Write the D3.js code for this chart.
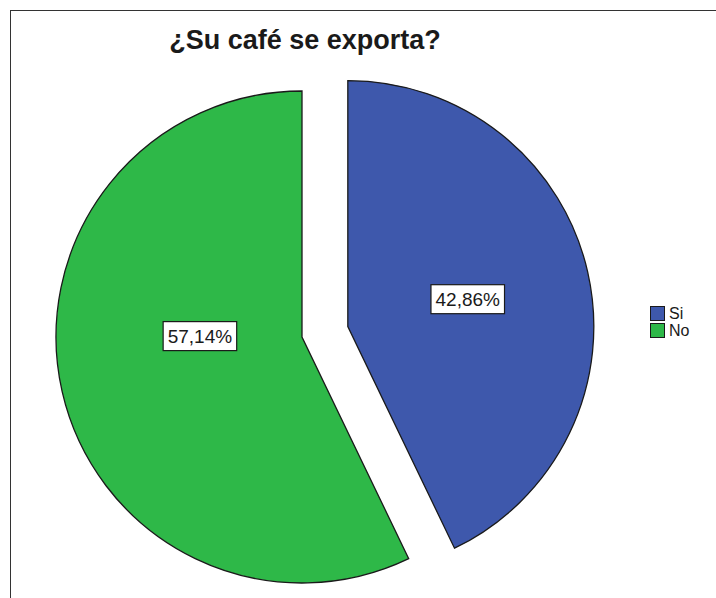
<!DOCTYPE html>
<html>
<head>
<meta charset="utf-8">
<script src="https://cdn.jsdelivr.net/npm/d3@7"></script>
<style>
  html, body { margin: 0; padding: 0; background: #fff; }
  svg { display: block; }
</style>
</head>
<body>
<svg id="chart" width="716" height="598"></svg>
<script>
// Data
const title = "¿Su café se exporta?";
const categories = ["Si", "No"];
const percentages = [42.86, 57.14];
const colors = ["#3e58ac", "#2eb848"];

const W = 716, H = 598;
const FONT = "'Liberation Sans', Arial, Helvetica, sans-serif";

const svg = d3.select("#chart");

// Outer frame (extends past the right and bottom edges)
svg.append("rect")
  .attr("x", 10.5).attr("y", 10.5)
  .attr("width", W + 20).attr("height", H + 20)
  .attr("fill", "#fff").attr("stroke", "#333").attr("stroke-width", 1);

// Title
svg.append("text")
  .attr("x", 305).attr("y", 49)
  .attr("text-anchor", "middle")
  .attr("font-family", FONT).attr("font-weight", "bold")
  .attr("font-size", 27).attr("fill", "#1a1a1a")
  .text(title);

// Pie layout
const cx = 302, cy = 337, radius = 246;
const explode = [47, 0];           // first slice pulled out
const labelPlace = [                // label anchor: angle (deg, clockwise from top) and radius fraction
  { angle: null, frac: 0.5 },
  { angle: 270.5, frac: 0.415 }
];

const pie = d3.pie().sort(null).value(d => d).startAngle(0).endAngle(2 * Math.PI);
const arcs = pie(percentages);
const arc = d3.arc().innerRadius(0).outerRadius(radius);

const g = svg.append("g").attr("transform", `translate(${cx},${cy})`);

const slices = g.selectAll("g.slice")
  .data(arcs)
  .join("g")
  .attr("class", "slice")
  .attr("transform", (d, i) => {
    const mid = (d.startAngle + d.endAngle) / 2;
    return `translate(${Math.sin(mid) * explode[i]},${-Math.cos(mid) * explode[i]})`;
  });

slices.append("path")
  .attr("d", arc)
  .attr("fill", (d, i) => colors[i])
  .attr("stroke", "#1a1a1a")
  .attr("stroke-width", 1.3)
  .attr("stroke-linejoin", "miter");

// Value labels in boxes
slices.each(function (d, i) {
  const sel = d3.select(this);
  const mid = (d.startAngle + d.endAngle) / 2;
  const a = labelPlace[i].angle === null ? mid : labelPlace[i].angle * Math.PI / 180;
  const r = radius * labelPlace[i].frac;
  const lx = Math.sin(a) * r, ly = -Math.cos(a) * r;
  const txt = d3.format(".2f")(d.data).replace(".", ",") + "%";
  const t = sel.append("text")
    .attr("x", lx).attr("y", ly)
    .attr("text-anchor", "middle")
    .attr("dominant-baseline", "central")
    .attr("font-family", FONT).attr("font-size", 19)
    .attr("fill", "#1a1a1a")
    .text(txt);
  const bb = t.node().getBBox();
  sel.insert("rect", "text")
    .attr("x", lx - bb.width / 2 - 4.5).attr("y", ly - 14.5)
    .attr("width", bb.width + 9).attr("height", 29)
    .attr("fill", "#fff").attr("stroke", "#1a1a1a").attr("stroke-width", 1.2);
});

// Legend
const legend = svg.append("g").attr("transform", "translate(650,306)");
const items = legend.selectAll("g")
  .data(categories)
  .join("g")
  .attr("transform", (d, i) => `translate(0,${i * 17})`);
items.append("rect")
  .attr("x", 0.5).attr("y", 0.5).attr("width", 14).attr("height", 14)
  .attr("fill", (d, i) => colors[i]).attr("stroke", "#1a1a1a").attr("stroke-width", 1);
items.append("text")
  .attr("x", 19).attr("y", 13)
  .attr("font-family", FONT).attr("font-size", 16).attr("fill", "#1a1a1a")
  .text(d => d);
</script>
</body>
</html>
